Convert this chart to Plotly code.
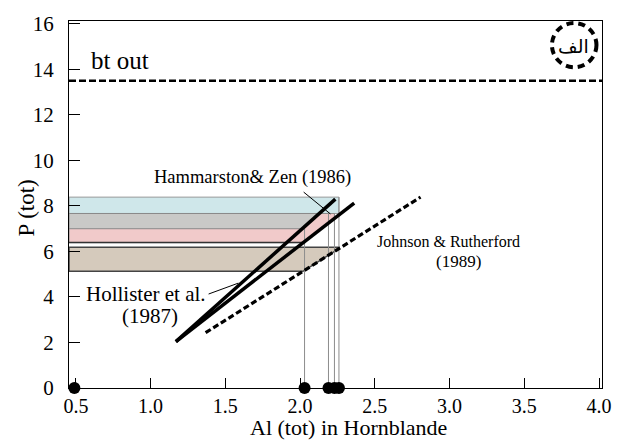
import plotly.graph_objects as go

# ---------------- data ----------------
x_ticks = [0.5, 1.0, 1.5, 2.0, 2.5, 3.0, 3.5, 4.0]
y_ticks = [0, 2, 4, 6, 8, 10, 12, 14, 16]

# calibration lines (Al, P) end points
hollister_x = [1.169, 2.236]
hollister_y = [2.04, 8.30]
hammarstrom_x = [1.169, 2.362]
hammarstrom_y = [2.04, 8.13]
johnson_x = [1.368, 2.806]
johnson_y = [2.43, 8.39]

bt_out_p = 13.5

# pressure bands (low, high)
band_low = [7.67, 6.39, 7.00, 5.13]
band_high = [8.39, 7.67, 7.67, 6.19]
band_names = ["blue", "pink", "gray", "tan"]
band_colors = ["#cfe7ea", "#f1caca", "#c9c9c7", "#d5cabc"]
band_edges = ["#9a9a9a", "#8a8a8a", "#8a8a8a", "#444444"]

# sample Al values (dots on x axis) and drop-line tops
sample_al = [0.49, 2.03, 2.19, 2.23, 2.26]
drop_al = [2.03, 2.19, 2.23, 2.26]
drop_top = [7.00, 7.72, 7.67, 8.39]

XMIN, XMAX = 0.454, 4.02
YMIN, YMAX = 0.0, 16.13


def line_x_at(xs, ys, p):
    slope = (ys[1] - ys[0]) / (xs[1] - xs[0])
    return xs[0] + (p - ys[0]) / slope


def line_y_at(xs, ys, a):
    slope = (ys[1] - ys[0]) / (xs[1] - xs[0])
    return ys[0] + (a - xs[0]) * slope


fig = go.Figure()

# blue band: rectangle to last drop line
bx = [XMIN, drop_al[3], drop_al[3], XMIN, XMIN]
by = [band_low[0], band_low[0], band_high[0], band_high[0], band_low[0]]
fig.add_trace(go.Scatter(x=bx, y=by, fill="toself", fillcolor=band_colors[0],
                         mode="lines", line=dict(color=band_edges[0], width=1),
                         hoverinfo="skip", showlegend=False))

# pink band: bounded by Hammarstrom line, capped at drop line 3
cap = drop_al[2]
px = [XMIN, line_x_at(hammarstrom_x, hammarstrom_y, band_low[1]), cap, cap, XMIN, XMIN]
py = [band_low[1], band_low[1], line_y_at(hammarstrom_x, hammarstrom_y, cap),
      band_high[1], band_high[1], band_low[1]]
fig.add_trace(go.Scatter(x=px, y=py, fill="toself", fillcolor=band_colors[1],
                         mode="lines", line=dict(color=band_edges[1], width=1),
                         hoverinfo="skip", showlegend=False))

# gray band: bounded by Hollister line
gx = [XMIN, line_x_at(hollister_x, hollister_y, band_low[2]),
      line_x_at(hollister_x, hollister_y, band_high[2]), XMIN, XMIN]
gy = [band_low[2], band_low[2], band_high[2], band_high[2], band_low[2]]
fig.add_trace(go.Scatter(x=gx, y=gy, fill="toself", fillcolor=band_colors[2],
                         mode="lines", line=dict(color=band_edges[2], width=1),
                         hoverinfo="skip", showlegend=False))

# tan band: bounded by Johnson line, capped at drop line 4
cap4 = drop_al[3]
tx = [XMIN, line_x_at(johnson_x, johnson_y, band_low[3]), cap4, cap4, XMIN, XMIN]
ty = [band_low[3], band_low[3], line_y_at(johnson_x, johnson_y, cap4),
      band_high[3], band_high[3], band_low[3]]
fig.add_trace(go.Scatter(x=tx, y=ty, fill="toself", fillcolor=band_colors[3],
                         mode="lines", line=dict(color=band_edges[3], width=1.5),
                         hoverinfo="skip", showlegend=False))

# dark line under the pink band
fig.add_trace(go.Scatter(x=[XMIN, line_x_at(hammarstrom_x, hammarstrom_y, band_low[1])],
                         y=[band_low[1], band_low[1]], mode="lines",
                         line=dict(color="#333333", width=1.5),
                         hoverinfo="skip", showlegend=False))

# drop lines
for a, top in zip(drop_al, drop_top):
    fig.add_trace(go.Scatter(x=[a, a], y=[0, top], mode="lines",
                             line=dict(color="#8c8c8c", width=1),
                             hoverinfo="skip", showlegend=False))

# calibration lines
fig.add_trace(go.Scatter(x=hollister_x, y=hollister_y, mode="lines",
                         line=dict(color="black", width=3.5), showlegend=False))
fig.add_trace(go.Scatter(x=hammarstrom_x, y=hammarstrom_y, mode="lines",
                         line=dict(color="black", width=3.5), showlegend=False))
fig.add_trace(go.Scatter(x=johnson_x, y=johnson_y, mode="lines",
                         line=dict(color="black", width=3.2, dash="6px,3px"),
                         showlegend=False))

# bt out line
fig.add_trace(go.Scatter(x=[XMIN, XMAX], y=[bt_out_p, bt_out_p], mode="lines",
                         line=dict(color="black", width=2.5, dash="7px,3px"),
                         showlegend=False))

# leader lines
fig.add_trace(go.Scatter(x=[2.024, 2.203], y=[8.61, 7.65], mode="lines",
                         line=dict(color="black", width=1), showlegend=False))
fig.add_trace(go.Scatter(x=[1.388, 1.587], y=[4.13, 4.61], mode="lines",
                         line=dict(color="black", width=1), showlegend=False))

# sample dots
fig.add_trace(go.Scatter(x=sample_al, y=[0] * len(sample_al), mode="markers",
                         marker=dict(color="black", size=12, symbol="circle"),
                         cliponaxis=False, showlegend=False))

serif = "Liberation Serif"

annotations = [
    dict(x=0.798, y=14.39, text="bt out", font=dict(size=25)),
    dict(x=1.680, y=9.26, text="Hammarston& Zen (1986)", font=dict(size=18.5)),
    dict(x=0.969, y=4.13, text="Hollister et al.", font=dict(size=21)),
    dict(x=0.997, y=3.17, text="(1987)", font=dict(size=21)),
    dict(x=2.990, y=6.43, text="Johnson & Rutherford", font=dict(size=16)),
    dict(x=3.058, y=5.57, text="(1989)", font=dict(size=17)),
    dict(x=3.83, y=15.03, text="الف", font=dict(size=19, family="DejaVu Sans")),
]
for a in annotations:
    a.update(xref="x", yref="y", showarrow=False, xanchor="center", yanchor="middle")
    a["font"] = dict(color="black", family=a["font"].get("family", serif), size=a["font"]["size"])

annotations.append(dict(xref="paper", yref="paper", x=0.524, y=-0.146,
                        text="Al (tot) in Hornblande", showarrow=False,
                        xanchor="center", yanchor="bottom",
                        font=dict(family=serif, size=22, color="black")))
annotations.append(dict(xref="paper", yref="paper", x=-0.08, y=0.49,
                        text="P (tot)", showarrow=False, textangle=-90,
                        xanchor="center", yanchor="middle",
                        font=dict(family=serif, size=23, color="black")))

fig.update_layout(
    width=623, height=443,
    margin=dict(l=69, r=16, t=17, b=55),
    paper_bgcolor="white", plot_bgcolor="white",
    font=dict(family=serif, color="black"),
    annotations=annotations,
    shapes=[dict(type="circle", xref="x", yref="y",
                 x0=3.685, x1=3.983, y0=14.10, y1=16.04,
                 line=dict(color="black", width=4, dash="7px,5px"))],
)

fig.update_xaxes(range=[XMIN, XMAX], tickvals=x_ticks,
                 ticktext=[f"{v:.1f}" for v in x_ticks],
                 ticks="inside", ticklen=10, tickwidth=1, tickcolor="black",
                 showline=True, linecolor="black", linewidth=1, mirror=True,
                 showgrid=False, zeroline=False,
                 tickfont=dict(family=serif, size=20, color="black"),
                 ticklabelstandoff=0)
fig.update_yaxes(range=[YMIN, YMAX], tickvals=y_ticks,
                 ticks="inside", ticklen=11, tickwidth=1, tickcolor="black",
                 showline=True, linecolor="black", linewidth=1, mirror=True,
                 showgrid=False, zeroline=False,
                 tickfont=dict(family=serif, size=21, color="black"),
                 ticklabelstandoff=10)

fig.write_html("out.html")
